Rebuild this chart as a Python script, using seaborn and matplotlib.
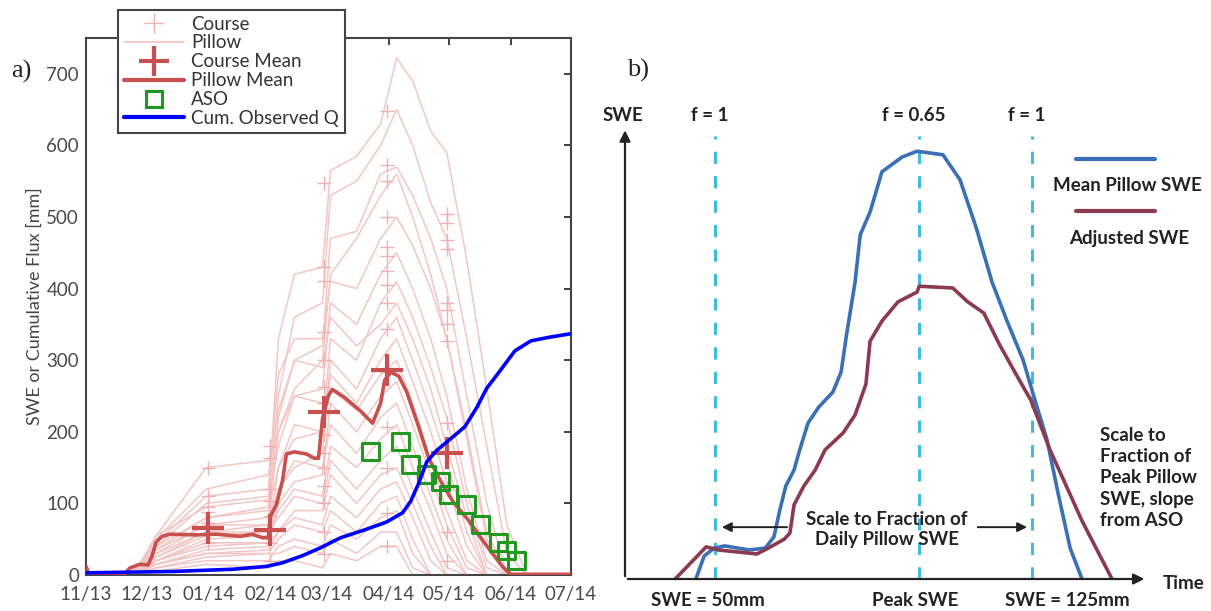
import pandas as pd
import matplotlib.pyplot as plt
import matplotlib.dates as mdates
from matplotlib.lines import Line2D
import seaborn as sns

sns.set_style("white")
plt.rcParams['font.family'] = ['Lato', 'DejaVu Sans']

# ---------- panel a) data (days after 2013-11-01) ----------
start = pd.Timestamp("2013-11-01")

pillow_days = [0, 19, 26, 35, 60, 91, 96, 104, 118, 122, 135, 147, 155, 163, 172, 180, 190, 200, 210, 220, 242]
pillows = [
    [0, 0, 12, 55, 95, 105, 330, 420, 430, 565, 585, 630, 722, 690, 620, 590, 440, 260, 70, 0, 0],
    [0, 0, 8, 40, 80, 95, 250, 360, 380, 530, 550, 600, 650, 600, 520, 470, 330, 180, 30, 0, 0],
    [0, 0, 5, 35, 70, 80, 220, 300, 320, 470, 480, 560, 570, 530, 470, 400, 250, 100, 0, 0, 0],
    [0, 0, 0, 30, 60, 70, 200, 260, 300, 420, 470, 530, 560, 500, 420, 330, 200, 60, 0, 0, 0],
    [0, 0, 10, 45, 110, 120, 280, 330, 330, 410, 400, 470, 500, 460, 400, 330, 190, 50, 0, 0, 0],
    [0, 0, 5, 40, 100, 110, 180, 250, 260, 380, 350, 420, 450, 400, 330, 250, 120, 20, 0, 0, 0],
    [0, 0, 0, 25, 55, 60, 150, 190, 200, 330, 300, 380, 410, 360, 290, 220, 100, 10, 0, 0, 0],
    [0, 0, 10, 50, 120, 140, 230, 300, 290, 360, 320, 350, 380, 330, 260, 180, 80, 0, 0, 0, 0],
    [0, 0, 0, 20, 40, 45, 120, 150, 170, 300, 260, 330, 360, 300, 230, 160, 60, 0, 0, 0, 0],
    [0, 0, 5, 35, 80, 90, 150, 210, 200, 280, 240, 300, 330, 270, 200, 130, 40, 0, 0, 0, 0],
    [0, 0, 10, 55, 150, 160, 200, 250, 240, 260, 230, 280, 300, 240, 160, 90, 20, 0, 0, 0, 0],
    [0, 0, 0, 15, 35, 40, 100, 130, 140, 240, 200, 250, 270, 210, 140, 70, 10, 0, 0, 0, 0],
    [0, 0, 5, 30, 70, 70, 120, 160, 150, 210, 170, 220, 240, 180, 110, 50, 0, 0, 0, 0, 0],
    [0, 0, 0, 20, 50, 55, 90, 120, 110, 180, 150, 190, 210, 150, 90, 30, 0, 0, 0, 0, 0],
    [0, 0, 5, 25, 60, 60, 80, 110, 100, 160, 120, 160, 180, 120, 60, 10, 0, 0, 0, 0, 0],
    [0, 0, 0, 15, 30, 35, 60, 90, 90, 140, 100, 140, 150, 100, 40, 0, 0, 0, 0, 0, 0],
    [0, 0, 5, 20, 45, 45, 60, 80, 70, 110, 80, 120, 130, 80, 20, 0, 0, 0, 0, 0, 0],
    [0, 0, 0, 10, 25, 30, 50, 70, 60, 90, 60, 100, 110, 50, 0, 0, 0, 0, 0, 0, 0],
    [0, 0, 0, 10, 20, 20, 40, 50, 40, 70, 50, 80, 90, 30, 0, 0, 0, 0, 0, 0, 0],
    [0, 0, 5, 15, 30, 30, 30, 40, 30, 50, 30, 60, 60, 10, 0, 0, 0, 0, 0, 0, 0],
    [0, 0, 0, 5, 15, 10, 20, 20, 10, 30, 20, 40, 40, 0, 0, 0, 0, 0, 0, 0, 0],
]

course_jan = [150, 110, 95, 88, 72, 45]
course_feb = [180, 163, 120, 103, 82, 44, 20]
course_mar = [547, 430, 410, 340, 300, 262, 240, 195, 170, 150, 125, 100, 60, 30]
course_apr = [648, 572, 550, 500, 458, 445, 425, 405, 380, 343, 283, 207, 150, 87, 40]
course_may = [504, 492, 468, 455, 380, 370, 350, 327, 212, 120, 60, 20]
course_days = [61, 92, 119, 150, 180]

course_mean = [65, 63, 227, 286, 170]

mean_days = [0, 1.5, 19, 22, 27, 31, 33, 35, 38, 42, 54, 65, 77, 83, 88, 91, 92, 95, 98, 100,
             104, 110, 114, 116, 118, 121, 123, 129, 137, 143, 147, 149, 152, 156, 160, 166,
             171, 177, 183, 191, 197, 202, 208, 212, 242]
mean_swe = [12, 1, 1, 10, 15, 14, 27, 46, 54, 57, 56, 57, 54, 57, 52, 52, 82, 98, 131, 169,
            172, 169, 163, 163, 218, 251, 259, 248, 229, 212, 240, 272, 283, 278, 256, 207,
            163, 131, 103, 76, 52, 33, 11, 1, 1]

q_days = [0, 44, 73, 90, 98, 108, 117, 127, 139, 150, 158, 162, 166, 170, 175, 181, 189,
          195, 200, 206, 214, 222, 231, 242]
q_cum = [3, 5, 8, 12, 17, 27, 38, 52, 63, 74, 87, 103, 128, 158, 174, 188, 207, 234, 261,
         283, 313, 327, 332, 337]

aso_days = [142, 157, 162, 170, 177, 181, 190, 197, 206, 210, 215]
aso_swe = [172, 186, 154, 140, 131, 112, 98, 71, 46, 34, 20]

# ---------- panel b) schematic data (arbitrary units 0-100) ----------
pillow_t = [13.7, 15.3, 17.2, 19.3, 24.0, 27.1, 28.8, 30.0, 31.1, 32.7, 33.8, 35.4, 37.5,
            40.2, 41.8, 42.9, 44.5, 45.5, 47.4, 49.7, 53.6, 56.5, 61.5, 64.8, 67.9, 71.0,
            73.9, 77.0, 79.3, 81.6, 83.8, 86.1, 88.4]
pillow_swe = [0, 5.1, 6.9, 7.4, 6.5, 6.9, 9.4, 15.7, 20.8, 24.4, 28.9, 34.9, 38.5, 41.8,
              46.3, 55.0, 66.4, 77.0, 82.1, 91.1, 94.4, 95.7, 94.9, 89.3, 78.7, 66.4, 57.7,
              49.0, 40.0, 31.3, 19.0, 6.9, 0]
adj_t = [9.7, 15.7, 18.0, 25.5, 27.7, 30.8, 31.9, 32.7, 34.6, 36.8, 38.7, 42.2, 44.5, 46.6,
         47.4, 49.7, 52.8, 56.5, 56.9, 63.4, 66.3, 69.4, 72.5, 75.4, 78.5, 82.2, 88.4, 94.2]
adj_swe = [0, 7.2, 6.5, 5.6, 6.9, 8.9, 10.3, 16.6, 20.8, 24.4, 28.9, 32.7, 36.7, 43.6, 53.2,
           57.7, 62.0, 64.2, 65.5, 65.1, 62.0, 59.5, 52.3, 46.3, 40.0, 28.9, 13.0, 0]
f_lines = [17.4, 56.9, 78.7]
f_labels = ["f = 1", "f = 0.65", "f = 1"]
bottom_labels = ["SWE = 50mm", "Peak SWE", "SWE = 125mm"]
bottom_pos = [16.1, 56.1, 85.5]

pink = "#f3c6c6"
red = "#c8504e"
green = "#1f991f"

fig = plt.figure(figsize=(12.11, 6.11), dpi=100)

# ================= panel a =================
ax = fig.add_axes([86 / 1211, 36 / 611, 485 / 1211, 537 / 611])


def to_date(days):
    return start + pd.to_timedelta(days, unit="D")


for p in pillows:
    sns.lineplot(x=to_date(pillow_days), y=p, color=pink, lw=1.1, ax=ax,
                 estimator=None, sort=False, legend=False)

cx, cy = [], []
for d, vals in zip(course_days, [course_jan, course_feb, course_mar, course_apr, course_may]):
    cx += [d] * len(vals)
    cy += vals
sns.scatterplot(x=to_date(cx), y=cy, marker="+", s=100, color="#eeb0b0", linewidth=1,
                ax=ax, legend=False, zorder=3)

sns.lineplot(x=to_date(mean_days), y=mean_swe, color=red, lw=2.6, ax=ax,
             estimator=None, sort=False, legend=False, zorder=4)
sns.scatterplot(x=to_date(course_days), y=course_mean, marker="+", s=520, color=red,
                linewidth=3, ax=ax, legend=False, zorder=5)
sns.scatterplot(x=to_date(aso_days), y=aso_swe, marker="s", s=150, facecolors="none",
                edgecolor=green, linewidth=2.2, ax=ax, legend=False, zorder=5)
sns.lineplot(x=to_date(q_days), y=q_cum, color="#0000ff", lw=2.6, ax=ax,
             estimator=None, sort=False, legend=False, zorder=6)

ax.set_xlim(start, pd.Timestamp("2014-07-01"))
ax.set_ylim(0, 750)
ax.set_yticks(range(0, 800, 100))
ax.xaxis.set_major_locator(mdates.MonthLocator())
ax.xaxis.set_major_formatter(mdates.DateFormatter("%m/%y"))
ax.tick_params(direction="in", top=True, right=True, length=5, width=1.3,
               color="#333333", labelcolor="#4a4a4a", labelsize=13.5)
ax.tick_params(axis="x", pad=8)
ax.tick_params(axis="y", pad=5)
for s in ax.spines.values():
    s.set_color("#444444")
    s.set_linewidth(1.5)
ax.set_xlabel("")
ax.set_ylabel("SWE or Cumulative Flux [mm]", fontsize=13, color="#444444")
ax.yaxis.set_label_coords(-0.09, 0.5)

handles = [
    Line2D([], [], color="#eeb0b0", marker="+", ls="none", ms=14, mew=1),
    Line2D([], [], color=pink, lw=1.3),
    Line2D([], [], color=red, marker="+", ls="none", ms=22, mew=3),
    Line2D([], [], color=red, lw=3),
    Line2D([], [], color=green, marker="s", mfc="none", ls="none", ms=12, mew=2.2),
    Line2D([], [], color="#0000ff", lw=3),
]
labels = ["Course", "Pillow", "Course Mean", "Pillow Mean", "ASO", "Cum. Observed Q"]
leg = ax.legend(handles, labels, loc="upper left", bbox_to_anchor=(118 / 1211, 1 - 10 / 611),
                bbox_transform=fig.transFigure, borderaxespad=0, fontsize=13.5,
                labelspacing=0.1, handlelength=3.2, handletextpad=0.4, borderpad=0.3,
                fancybox=False, edgecolor="#444444", framealpha=1)
leg.get_frame().set_linewidth(1.5)
for t in leg.get_texts():
    t.set_color("#333333")

fig.text(21 / 1211, 1 - 71 / 611, "a)", fontsize=19, family="Liberation Serif",
         ha="center", va="center", color="#222222")

# ================= panel b =================
ax2 = fig.add_axes([625 / 1211, 32 / 611, 517 / 1211, 447 / 611])
ax2.set_xlim(0, 100)
ax2.set_ylim(0, 100)
ax2.axis("off")

for x in f_lines:
    ax2.axvline(x, ymin=0, ymax=0.99, color="#3cbde0", lw=2.2, ls=(0, (4, 4)), zorder=1)

sns.lineplot(x=pillow_t, y=pillow_swe, color="#3b6fb6", lw=2.6, ax=ax2,
             estimator=None, sort=False, legend=False, zorder=3)
sns.lineplot(x=adj_t, y=adj_swe, color="#8c3a4f", lw=2.6, ax=ax2,
             estimator=None, sort=False, legend=False, zorder=3)

arrow = dict(arrowstyle="-|>", color="#222222", lw=1.6, mutation_scale=16)
ax2.annotate("", xy=(101, 0), xytext=(0, 0), arrowprops=arrow, annotation_clip=False)
ax2.annotate("", xy=(0, 101), xytext=(0, 0), arrowprops=arrow, annotation_clip=False)

tk = dict(fontsize=13.5, fontweight="bold", color="#222222", ha="center", va="center",
          clip_on=False)
ax2.text(-0.4, 103.8, "SWE", **tk)
for x, lab in zip(f_lines, f_labels):
    ax2.text(x - 1, 103.8, lab, **tk)
for x, lab in zip(bottom_pos, bottom_labels):
    ax2.text(x, -4.7, lab, **tk)
ax2.text(108, -0.9, "Time", **tk)

# legend of panel b: sample line above its label
ax2.add_line(Line2D([87.2, 102.5], [94.0, 94.0], color="#3b6fb6", lw=3, clip_on=False))
ax2.add_line(Line2D([87.2, 102.5], [82.3, 82.3], color="#8c3a4f", lw=3, clip_on=False))
ax2.text(97.1, 88.1, "Mean Pillow SWE", **tk)
ax2.text(97.5, 76.1, "Adjusted SWE", **tk)

ax2.text(50.7, 11.1, "Scale to Fraction of\nDaily Pillow SWE", linespacing=1.25, **tk)
small_arrow = dict(arrowstyle="-|>", color="#222222", lw=1.4, mutation_scale=14)
ax2.annotate("", xy=(18.2, 11.6), xytext=(31.9, 11.6), arrowprops=small_arrow)
ax2.annotate("", xy=(78.3, 11.6), xytext=(67.7, 11.6), arrowprops=small_arrow)

ax2.text(91.9, 22.6, "Scale to\nFraction of\nPeak Pillow\nSWE, slope\nfrom ASO",
         fontsize=13.5, fontweight="bold", color="#222222", ha="left", va="center",
         linespacing=1.3, clip_on=False)

fig.text(638 / 1211, 1 - 70 / 611, "b)", fontsize=19, family="Liberation Serif",
         ha="center", va="center", color="#222222")

fig.savefig("out.png", dpi=100)
